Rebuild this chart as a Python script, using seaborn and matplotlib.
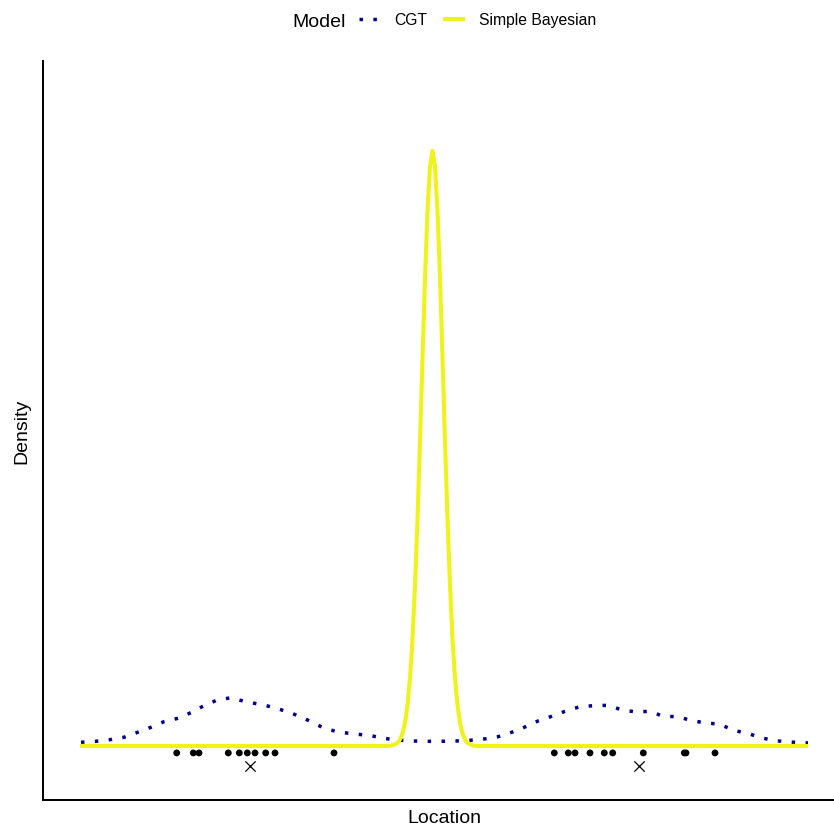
import matplotlib
matplotlib.use("Agg")
import matplotlib.pyplot as plt
from matplotlib.lines import Line2D
import numpy as np
import pandas as pd
import seaborn as sns

# ---- data ----
cgt_x = [-3.515, -3.368, -3.225, -3.085, -2.948, -2.815, -2.685, -2.542, -2.408, -2.285,
         -2.152, -2.015, -1.872, -1.732, -1.592, -1.455, -1.318, -1.192, -1.065, -0.918,
         -0.775, -0.632, -0.492, -0.352, -0.202, -0.058, 0.085, 0.232, 0.368, 0.512,
         0.658, 0.792, 0.925, 1.055, 1.192, 1.325, 1.465, 1.608, 1.752, 1.888,
         2.032, 2.172, 2.308, 2.452, 2.592, 2.732, 2.875, 3.008, 3.148, 3.285,
         3.425, 3.568, 3.715, 3.755]
cgt_y = [0.023, 0.029, 0.039, 0.054, 0.085, 0.116, 0.151, 0.172, 0.209, 0.250,
         0.285, 0.299, 0.275, 0.259, 0.240, 0.213, 0.182, 0.143, 0.105, 0.085,
         0.074, 0.066, 0.048, 0.037, 0.031, 0.029, 0.029, 0.031, 0.035, 0.043,
         0.058, 0.085, 0.118, 0.155, 0.184, 0.215, 0.242, 0.250, 0.252, 0.225,
         0.211, 0.215, 0.184, 0.182, 0.157, 0.143, 0.135, 0.097, 0.079, 0.051,
         0.033, 0.025, 0.020, 0.019]

bayes_x = [-3.525, -0.45, -0.4, -0.35, -0.325, -0.3, -0.275, -0.25, -0.225, -0.2,
           -0.175, -0.15, -0.125, -0.1, -0.075, -0.05, -0.025, 0.0, 0.025, 0.05,
           0.075, 0.1, 0.125, 0.15, 0.175, 0.2, 0.225, 0.25, 0.275, 0.3,
           0.325, 0.35, 0.4, 0.45, 3.755]
bayes_y = [0.0, 0.0, 0.004, 0.019, 0.040, 0.078, 0.144, 0.253, 0.421, 0.664,
           0.993, 1.407, 1.889, 2.404, 2.899, 3.315, 3.593, 3.690, 3.593, 3.315,
           2.899, 2.404, 1.889, 1.407, 0.993, 0.664, 0.421, 0.253, 0.144, 0.078,
           0.040, 0.019, 0.004, 0.0, 0.0]

obs_x = [-2.558, -2.392, -2.335, -2.042, -1.932, -1.852, -1.775, -1.668, -1.575, -0.985,
         1.218, 1.358, 1.425, 1.575, 1.718, 1.802, 2.108, 2.518, 2.535, 2.825]
obs_y = -0.043
true_x = [-1.825, 2.068]
true_y = -0.124

models = ["CGT", "Simple Bayesian"]
colors = {"CGT": "#00008B", "Simple Bayesian": "#EFF31A"}

# ---- figure ----
sns.set_style("white")
plt.rcParams["font.family"] = ["Liberation Sans", "DejaVu Sans"]
plt.rcParams["text.color"] = "black"
plt.rcParams["axes.labelcolor"] = "black"

W, H = 834, 828
fig = plt.figure(figsize=(W / 100, H / 100), dpi=100)
ax_l, ax_r, ax_t, ax_b = 43, 834, 62, 800.7
ax = fig.add_axes([ax_l / W, 1 - ax_b / H, (ax_r - ax_l) / W, (ax_b - ax_t) / H])

cgt_df = pd.DataFrame({"Location": cgt_x, "Density": cgt_y})
bay_df = pd.DataFrame({"Location": bayes_x, "Density": bayes_y})

sns.lineplot(data=cgt_df, x="Location", y="Density", ax=ax, color=colors["CGT"],
             linewidth=2.5, linestyle=(0, (1, 3)), sort=False, estimator=None)
sns.lineplot(data=bay_df, x="Location", y="Density", ax=ax, color=colors["Simple Bayesian"],
             linewidth=2.9, sort=False, estimator=None, solid_capstyle="butt")

sns.scatterplot(x=obs_x, y=[obs_y] * len(obs_x), ax=ax, color="black", s=24,
                edgecolor="none", zorder=5)
sns.scatterplot(x=true_x, y=[true_y] * len(true_x), ax=ax, color="black", marker="x",
                s=55, linewidth=0.9, zorder=5)

ax.set_xlim(-3.895, 4.015)
ax.set_ylim(-0.333, 4.247)
ax.set_xticks([])
ax.set_yticks([])
for side in ["top", "right"]:
    ax.spines[side].set_visible(False)
for side in ["left", "bottom"]:
    ax.spines[side].set_color("black")
    ax.spines[side].set_linewidth(1.45)

ax.set_xlabel("Location", fontsize=14, color="black")
ax.set_ylabel("Density", fontsize=14, color="black")
ax.xaxis.set_label_coords((444.5 - ax_l) / (ax_r - ax_l), (ax_b - 819) / (ax_b - ax_t))
ax.xaxis.label.set_va("center")
ax.yaxis.set_label_coords((22 - ax_l) / (ax_r - ax_l), 0.5)
ax.yaxis.label.set_va("center")

# legend
fig.text(292.7 / W, 1 - 27.3 / H, "Model", fontsize=14, ha="left", va="baseline",
         color="black")
handles = [Line2D([], [], color=colors["CGT"], lw=2.5, linestyle=(0, (1, 3))),
           Line2D([], [], color=colors["Simple Bayesian"], lw=2.9, solid_capstyle="butt")]
fig.legend(handles, models, loc="center left", bbox_to_anchor=(358.5 / W, 1 - 20.7 / H),
           ncol=2, frameon=False, fontsize=11.3, handlelength=1.4, handletextpad=0.89,
           columnspacing=1.02, borderpad=0, borderaxespad=0, labelcolor="black")

fig.savefig("out.png", dpi=100)
